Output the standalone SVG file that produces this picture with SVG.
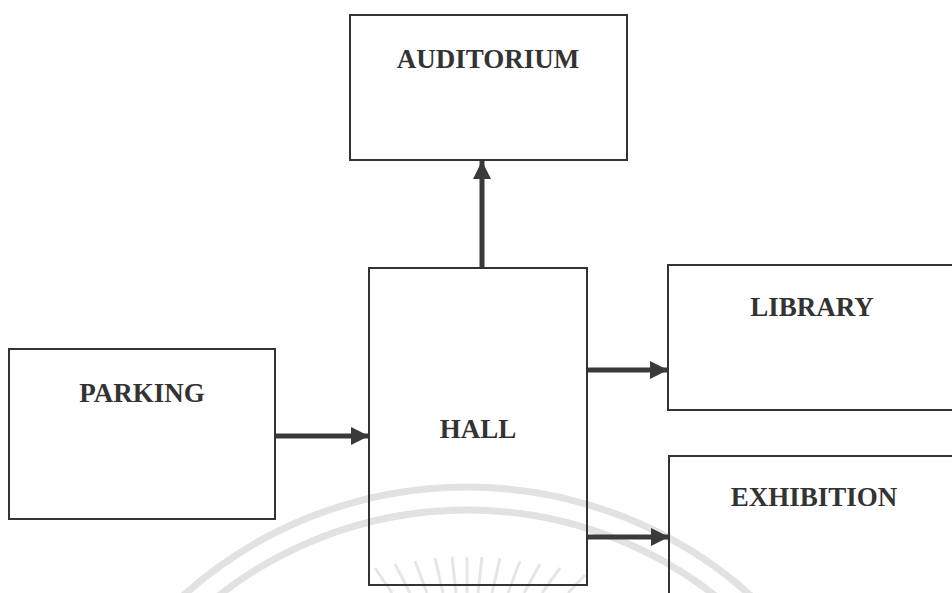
<svg xmlns="http://www.w3.org/2000/svg" width="952" height="593" viewBox="0 0 952 593">
  <style>
    .box { fill: none; stroke: #333; stroke-width: 2; }
    .label { font-family: "Liberation Serif", "Times New Roman", serif; font-weight: bold; font-size: 27px; fill: #333; text-anchor: middle; }
    .link { stroke: #3a3a3a; stroke-width: 5; fill: none; }
    .mark { fill: none; stroke: #e2e2e2; stroke-width: 7; }
    .ray { stroke: #e6e6e6; stroke-width: 3; }
  </style>
  <defs>
    <marker id="head" viewBox="0 0 10 10" refX="10" refY="5" markerWidth="3.6" markerHeight="3.6" orient="auto" markerUnits="strokeWidth">
      <path d="M0,0 L10,5 L0,10 z" fill="#3a3a3a"/>
    </marker>
  </defs>
  <rect width="952" height="593" fill="#fff"/>

  <!-- faint background seal: two rings and a sunburst -->
  <g id="seal">
    <circle class="mark" cx="467" cy="912" r="425"/>
    <circle class="mark" cx="467" cy="912" r="402"/>
    <line class="ray" x1="375" y1="568" x2="392" y2="593"/>
    <line class="ray" x1="395" y1="564" x2="410" y2="593"/>
    <line class="ray" x1="415" y1="561" x2="427" y2="593"/>
    <line class="ray" x1="435" y1="558" x2="443" y2="593"/>
    <line class="ray" x1="452" y1="557" x2="456" y2="593"/>
    <line class="ray" x1="467" y1="557" x2="467" y2="593"/>
    <line class="ray" x1="482" y1="557" x2="478" y2="593"/>
    <line class="ray" x1="500" y1="558" x2="492" y2="593"/>
    <line class="ray" x1="520" y1="561" x2="508" y2="593"/>
    <line class="ray" x1="540" y1="564" x2="524" y2="593"/>
    <line class="ray" x1="560" y1="568" x2="542" y2="593"/>
    <line class="ray" x1="585" y1="575" x2="568" y2="593"/>
  </g>

  <g id="connectors">
    <line class="link" x1="482" y1="268" x2="482" y2="161" marker-end="url(#head)"/>
    <line class="link" x1="275" y1="436" x2="369" y2="436" marker-end="url(#head)"/>
    <line class="link" x1="587" y1="370" x2="668" y2="370" marker-end="url(#head)"/>
    <line class="link" x1="587" y1="537" x2="669" y2="537" marker-end="url(#head)"/>
  </g>

  <g id="auditorium">
    <rect class="box" x="350" y="15" width="277" height="145"/>
    <text class="label" x="488" y="68">AUDITORIUM</text>
  </g>
  <g id="hall">
    <rect class="box" x="369" y="268" width="218" height="317" fill="none"/>
    <text class="label" x="478" y="438">HALL</text>
  </g>
  <g id="parking">
    <rect class="box" x="9" y="349" width="266" height="170"/>
    <text class="label" x="142" y="402">PARKING</text>
  </g>
  <g id="library">
    <rect class="box" x="668" y="265" width="290" height="145"/>
    <text class="label" x="812" y="316">LIBRARY</text>
  </g>
  <g id="exhibition">
    <rect class="box" x="669" y="456" width="290" height="150"/>
    <text class="label" x="814" y="506">EXHIBITION</text>
  </g>
</svg>
